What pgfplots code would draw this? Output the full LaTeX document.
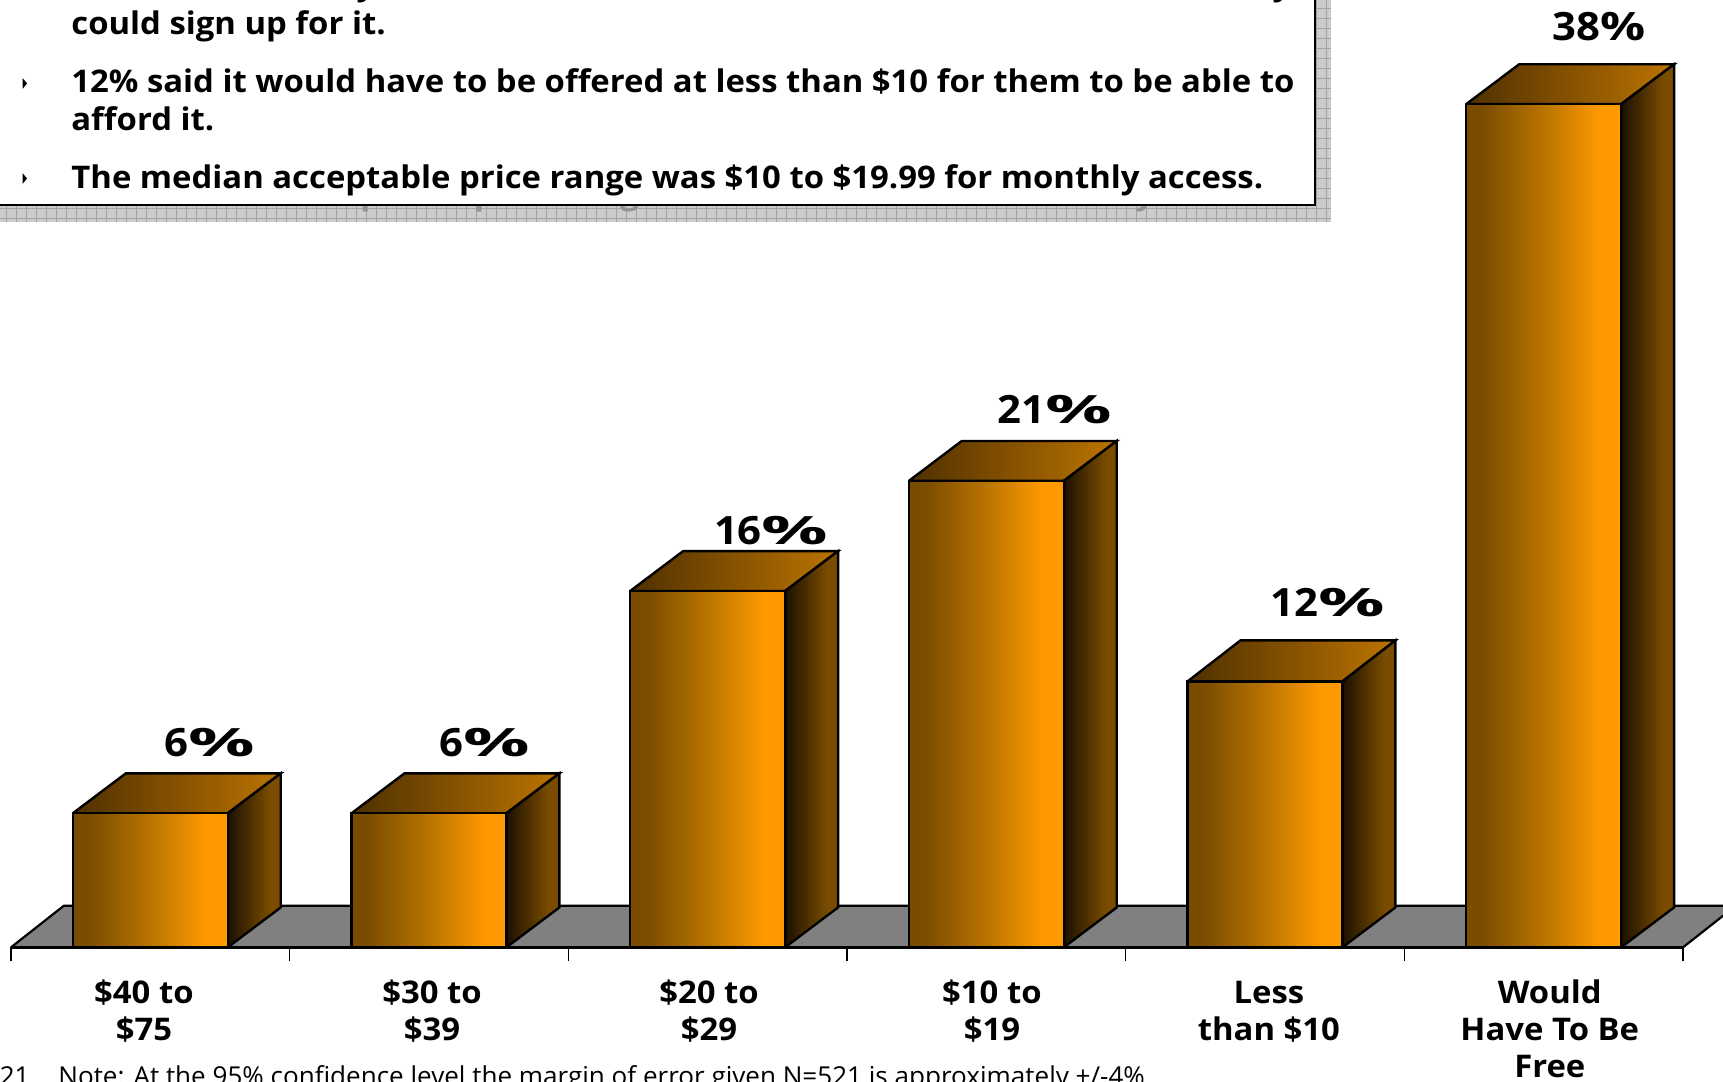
\documentclass[border=0pt]{standalone}
\usepackage{fontspec}
\setmainfont{Open Sans}[BoldFeatures={FakeStretch=1.053}]
\usepackage{pgfplots}
\pgfplotsset{compat=1.18}
\definecolor{shadowbase}{HTML}{CCCCCC}
\definecolor{shadowline}{HTML}{A3A3A3}
\definecolor{floorgray}{HTML}{808080}
\definecolor{barA}{HTML}{7A4C00}
\definecolor{barB}{HTML}{C07800}
\definecolor{barC}{HTML}{FF9900}
\definecolor{topA}{HTML}{4F3000}
\definecolor{topB}{HTML}{BD7400}
\definecolor{sideA}{HTML}{1C1000}
\definecolor{sideB}{HTML}{7A4C00}
\pgfdeclarehorizontalshading{barfront}{100bp}{color(0bp)=(barA); color(30bp)=(barA); color(52bp)=(barB); color(68bp)=(barC); color(100bp)=(barC)}
\pgfdeclarehorizontalshading{bartop}{100bp}{color(0bp)=(topA); color(25bp)=(topA); color(75bp)=(topB); color(100bp)=(topB)}
\pgfdeclarehorizontalshading{barside}{100bp}{color(0bp)=(sideA); color(25bp)=(sideA); color(65bp)=(sideB); color(100bp)=(sideB)}
\newcommand{\bodyfont}{\fontsize{15.6pt}{18.7pt}\selectfont\bfseries}
\newcommand{\pct}[2][1.8]{{\fontsize{19.5pt}{21pt}\selectfont\bfseries\scalebox{1.02}[1]{#2}\scalebox{#1}[1]{\%}}}
\pgfplotsset{front face/.style={ybar,bar width=77.5pt,bar shift=0pt,shade,shading=barfront,draw=black,line width=1.2pt}}
\begin{document}
\begin{tikzpicture}
\clip (0,0) rectangle (861.5pt,-540.5pt);
% text box with its shadow, in image pixels
\begin{scope}[x=0.5pt,y=-0.5pt]
\fill[shadowbase] (0,-5) rectangle (1331,221.5);
\foreach \gx in {6,16,...,1326} \draw[shadowline,line width=0.45pt] (\gx,-5) -- (\gx,221.5);
\foreach \gy in {8,18,...,218} \draw[shadowline,line width=0.45pt] (0,\gy) -- (1331,\gy);
\node[anchor=base west,inner sep=0,text=gray!85] at (86,204) {\bodyfont The median acceptable price range was \$10 to \$19.99 for monthly access.};
\fill[white,draw=black,line width=1pt] (-5,-5) rectangle (1315,205);
\node[anchor=base west,inner sep=0] at (71,35) {\bodyfont could sign up for it.};
\node[anchor=base west,inner sep=0] at (71,93) {\bodyfont 12\% said it would have to be offered at less than \$10 for them to be able to};
\node[anchor=base west,inner sep=0] at (71,131) {\bodyfont afford it.};
\node[anchor=base west,inner sep=0] at (71,188) {\bodyfont The median acceptable price range was \$10 to \$19.99 for monthly access.};
\node[anchor=base,inner sep=0] at (366,-4) {\bodyfont y};
\node[anchor=base,inner sep=0] at (1282,-4) {\bodyfont y};
\fill[black] (22.5,78) -- (27,83.5) -- (22.5,89) -- cycle;
\fill[black] (22.5,173) -- (27,178.5) -- (22.5,184) -- cycle;
\node[anchor=base west,inner sep=0] at (58,1085) {\fontsize{13.03pt}{15pt}\selectfont Note: At the 95\% confidence level the margin of error given N=521 is approximately +/-4\%};
\node[anchor=base east,inner sep=0] at (30,1085) {\fontsize{13.03pt}{15pt}\selectfont N=521};
\end{scope}
\begin{axis}[
  at={(5.5pt,-473.65pt)},anchor=south west,
  scale only axis,width=836pt,height=473.65pt,
  xmin=-0.5,xmax=5.5,ymin=0,ymax=42.75,
  clip=false,
  axis x line=bottom,axis y line=none,
  x axis line style={-,line width=1.2pt},
  xtick={-0.023,1.011,2.005,3.02,4.014,5.022},
  xticklabels={{\$40 to\\\$75},{\$30 to\\\$39},{\$20 to\\\$29},{\$10 to\\\$19},{\vphantom{\$}Less\\than \$10},{Would\\Have To Be\\Free}},
  xticklabel style={align=center,font=\bodyfont,yshift=-12.5pt},
  major tick length=0pt,
  minor xtick={-0.5,0.5,1.5,2.5,3.5,4.5,5.5},
  minor tick length=7pt,
  tick align=outside,
  every minor tick/.style={black,line width=0.8pt},
]
% floor
\addplot[fill=floorgray,draw=black,line width=1.1pt] coordinates {(-0.5,0) (5.5,0) (5.69,1.88) (-0.31,1.88) (-0.5,0)};
% top and side faces
\addplot[shade,shading=bartop,draw=black,line width=1.2pt] coordinates {(-0.278,6.05) (0.278,6.05) (0.468,7.85) (-0.088,7.85) (-0.278,6.05)};
\addplot[shade,shading=barside,draw=black,line width=1.2pt] coordinates {(0.278,0) (0.278,6.05) (0.468,7.85) (0.468,1.8) (0.278,0)};
\addplot[shade,shading=bartop,draw=black,line width=1.2pt] coordinates {(0.722,6.05) (1.278,6.05) (1.468,7.85) (0.912,7.85) (0.722,6.05)};
\addplot[shade,shading=barside,draw=black,line width=1.2pt] coordinates {(1.278,0) (1.278,6.05) (1.468,7.85) (1.468,1.8) (1.278,0)};
\addplot[shade,shading=bartop,draw=black,line width=1.2pt] coordinates {(1.722,16.08) (2.278,16.08) (2.468,17.88) (1.912,17.88) (1.722,16.08)};
\addplot[shade,shading=barside,draw=black,line width=1.2pt] coordinates {(2.278,0) (2.278,16.08) (2.468,17.88) (2.468,1.8) (2.278,0)};
\addplot[shade,shading=bartop,draw=black,line width=1.2pt] coordinates {(2.722,21.05) (3.278,21.05) (3.468,22.85) (2.912,22.85) (2.722,21.05)};
\addplot[shade,shading=barside,draw=black,line width=1.2pt] coordinates {(3.278,0) (3.278,21.05) (3.468,22.85) (3.468,1.8) (3.278,0)};
\addplot[shade,shading=bartop,draw=black,line width=1.2pt] coordinates {(3.722,12) (4.278,12) (4.468,13.85) (3.912,13.85) (3.722,12)};
\addplot[shade,shading=barside,draw=black,line width=1.2pt] coordinates {(4.278,0) (4.278,12) (4.468,13.85) (4.468,1.8) (4.278,0)};
\addplot[shade,shading=bartop,draw=black,line width=1.2pt] coordinates {(4.722,38.05) (5.278,38.05) (5.468,39.85) (4.912,39.85) (4.722,38.05)};
\addplot[shade,shading=barside,draw=black,line width=1.2pt] coordinates {(5.278,0) (5.278,38.05) (5.468,39.85) (5.468,1.8) (5.278,0)};
% front faces, one plot per bar so that each gets its own gradient
\addplot[front face] coordinates {(0,6.05)};
\addplot[front face] coordinates {(1,6.05)};
\addplot[front face] coordinates {(2,16.08)};
\addplot[front face] coordinates {(3,21.05)};
\addplot[front face] coordinates {(4,12)};
\addplot[front face] coordinates {(5,38.05)};
\node[inner sep=0] at (axis cs:0.2147,9.22) {\pct{6}};
\node[inner sep=0] at (axis cs:1.2,9.22) {\pct{6}};
\node[inner sep=0] at (axis cs:2.228,18.79) {\pct{16}};
\node[inner sep=0] at (axis cs:3.246,24.25) {\pct{21}};
\node[inner sep=0] at (axis cs:4.226,15.54) {\pct{12}};
\node[inner sep=0] at (axis cs:5.2,41.57) {\pct[1.22]{38}};
\end{axis}
\end{tikzpicture}
\end{document}
